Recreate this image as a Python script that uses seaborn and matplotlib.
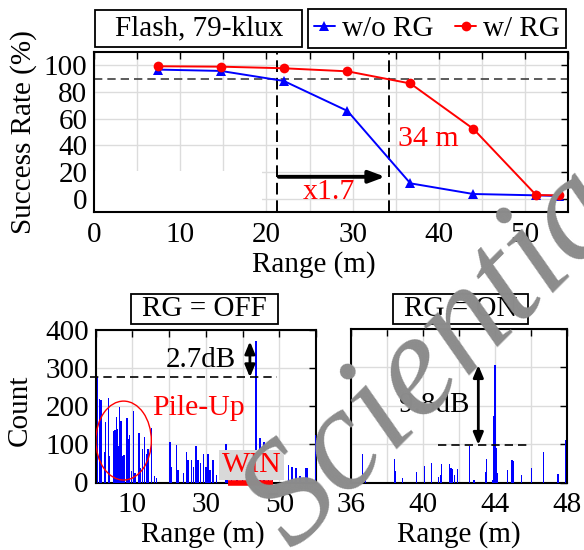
import numpy as np
import pandas as pd
import matplotlib
matplotlib.use('Agg')
import matplotlib.pyplot as plt
import seaborn as sns
from matplotlib.patches import Rectangle, Ellipse

# success rate vs range (top)
rng = [7.4, 14.7, 22.0, 29.4, 36.7, 44.0, 51.3, 54.0]
rate_wo_rg = [96.8, 95.8, 88.3, 65.8, 11.5, 3.5, 2.5, 2.0]
rate_w_rg = [99.3, 99.0, 97.8, 95.5, 86.4, 52.4, 2.7, 2.5]

# photon counts, RG off (bottom left)
off_range = [0.45, 1.08, 1.44, 2.35, 2.72, 3.44, 3.81, 4.9, 5.26, 5.62, 5.99, 6.17,
             6.53, 6.9, 7.26, 7.7, 8.52, 8.98, 9.25, 9.7, 10.34, 10.7, 11.8, 12.25,
             12.7, 13.33, 13.8, 14.3, 15.15, 15.96, 16.5,
             20.23, 20.7, 22.06, 22.4, 23.86, 24.78, 25.2, 26.1, 26.6, 27.3, 27.9,
             28.6, 29.3, 30.0, 30.6, 31.1, 31.9, 32.9, 35.5, 35.9,
             37.0, 38.5, 40.0, 41.5, 42.5, 43.66, 44.75, 45.9, 47.0, 48.2,
             52.45, 53.5, 54.5, 55.6, 57.2, 57.6, 59.85]
off_count = [276, 219, 216, 79, 160, 221, 70, 134, 137, 172, 140, 96,
             199, 162, 70, 73, 168, 114, 125, 31, 188, 26, 129, 39,
             87, 120, 74, 87, 144, 16, 13,
             107, 41, 98, 32, 24, 80, 59, 60, 41, 95, 59,
             50, 76, 41, 74, 32, 60, 19, 101, 24,
             10, 20, 14, 18, 25, 372, 118, 107, 32, 41,
             45, 41, 37, 17, 37, 37, 125]

# photon counts, RG on (bottom right)
on_range = [36.66, 36.8, 38.42, 38.49, 38.88, 39.66, 40.1, 40.49, 40.88, 40.97,
            41.04, 41.48, 41.56, 41.65, 41.74, 41.91, 42.57, 42.83, 43.48, 43.53,
            43.87, 43.93, 43.99, 44.05, 44.1, 44.68, 44.94, 45.03, 45.47, 46.03,
            46.69, 47.48, 47.92]
on_count = [74, 28, 61, 30, 12, 28, 43, 52, 15, 19,
            48, 47, 39, 35, 19, 34, 95, 6, 28, 60,
            6, 172, 305, 89, 24, 32, 59, 57, 19, 38,
            80, 21, 111]

sns.set_theme(style='whitegrid')
plt.rcParams['font.family'] = ['Liberation Serif', 'DejaVu Serif']
plt.rcParams.update({
    'axes.edgecolor': 'black',
    'axes.linewidth': 1.5,
    'grid.color': '#dcdcdc',
    'grid.linewidth': 1.0,
    'xtick.direction': 'in',
    'ytick.direction': 'in',
    'text.color': 'black',
    'axes.labelcolor': 'black',
    'xtick.color': 'black',
    'ytick.color': 'black',
})

W, H = 584, 550
FS = 21
FA = 21.5  # red annotations
fig = plt.figure(figsize=(W / 100, H / 100), dpi=100)


def px_axes(x0, y0, x1, y1):
    return fig.add_axes([x0 / W, 1 - y1 / H, (x1 - x0) / W, (y1 - y0) / H])


def px_box(x0, y0, x1, y1, label):
    fig.add_artist(Rectangle((x0 / W, 1 - y1 / H), (x1 - x0) / W, (y1 - y0) / H,
                             transform=fig.transFigure, fill=False, ec='black', lw=1.3))
    fig.text((x0 + x1) / 2 / W, 1 - (y0 + y1) / 2 / H, label, ha='center', va='center',
             fontsize=FS)


def style_ticks(ax):
    ax.tick_params(direction='in', top=True, right=True, length=5, width=1,
                   labelsize=FS, pad=7, colors='black')
    ax.tick_params(axis='y', pad=5)


# ---- top panel
ax = px_axes(94.2, 52, 568, 212)
df = pd.DataFrame({'Range': rng * 2,
                   'Rate': rate_wo_rg + rate_w_rg,
                   'Mode': ['w/o RG'] * len(rng) + ['w/ RG'] * len(rng)})
sns.lineplot(data=df, x='Range', y='Rate', hue='Mode', style='Mode',
             markers={'w/o RG': '^', 'w/ RG': 'o'}, dashes=False,
             palette={'w/o RG': 'blue', 'w/ RG': 'red'},
             markersize=7, linewidth=1.4, markeredgewidth=0, ax=ax, zorder=3)
ax.set_xlim(0, 55)
ax.set_ylim(-10, 110)
ticks = list(range(0, 56, 5))
ax.set_xticks(ticks)
ax.set_xticklabels([str(t) if t % 10 == 0 else '' for t in ticks])
ax.set_yticks(range(0, 101, 20))
style_ticks(ax)
ax.add_patch(Rectangle((0, -10), 19.5, 30.5, fc='white', ec='none', zorder=1))
ax.axhline(90, color='#404040', ls=(0, (5, 3)), lw=1.2, zorder=2)
ax.axvline(21.2, color='black', ls=(0, (6, 3)), lw=1.4, zorder=2)
ax.axvline(34.25, color='black', ls=(0, (6, 3)), lw=1.4, zorder=2)
ax.annotate('', xy=(34.1, 16.4), xytext=(21.1, 16.4),
            arrowprops=dict(arrowstyle='-|>,head_length=0.8,head_width=0.3',
                            color='black', lw=2.8), zorder=4)
ax.text(27.3, 5.2, 'x1.7', color='red', fontsize=FA, ha='center', va='center')
ax.text(35.3, 44.9, '34 m', color='red', fontsize=FA, ha='left', va='center')
ax.set_xlabel('Range (m)', fontsize=FS)
ax.set_ylabel('Success Rate (%)', fontsize=FS)
ax.xaxis.set_label_coords(0.463, -0.245)
ax.yaxis.set_label_coords(-0.121, 0.5)
handles, labels = ax.get_legend_handles_labels()
ax.get_legend().remove()
leg = fig.legend(handles, labels, loc='center', ncol=2,
                 bbox_to_anchor=(437.1 / W, 1 - 28.5 / H), fontsize=FS,
                 frameon=True, fancybox=False, edgecolor='black', framealpha=1,
                 handlelength=0.7, handletextpad=0.25, columnspacing=0.75,
                 borderpad=0.2, borderaxespad=0)
leg.get_frame().set_linewidth(1.3)
px_box(95, 10, 302.4, 47, 'Flash, 79-klux')

# ---- bottom left: RG off
ax2 = px_axes(95.7, 330, 316, 482.5)
ax2.bar(off_range, off_count, width=0.4, color='blue', lw=0, zorder=3)
ax2.set_xlim(0, 60)
ax2.set_ylim(0, 400)
ax2.set_xticks(range(0, 61, 10))
ax2.set_xticklabels(['', '10', '', '30', '', '50', ''])
ax2.set_yticks(range(0, 401, 100))
style_ticks(ax2)
ax2.plot([-1.6, 49.5], [276, 276], color='black', ls=(0, (5, 3)), lw=1.2,
         clip_on=False, zorder=4)
ax2.annotate('', xy=(42, 370), xytext=(42, 276),
             arrowprops=dict(arrowstyle='<|-|>,head_length=0.6,head_width=0.25',
                             color='black', lw=2, shrinkA=0, shrinkB=0))
ax2.text(28.6, 321, '2.7dB', fontsize=FS, ha='center', va='center')
ax2.text(28, 195, 'Pile-Up', fontsize=FA, color='red', ha='center', va='center')
ax2.add_patch(Ellipse((7.6, 110), 15.1, 207, fill=False, ec='red', lw=1, zorder=4))
ax2.text(42.5, 46, 'WIN', fontsize=FA, color='red', ha='center', va='center', zorder=5,
         bbox=dict(boxstyle='square,pad=0.08', fc='#d9d9d9', ec='none'))
ax2.plot([36.1, 48.2], [-2.6, -2.6], color='red', lw=4, solid_capstyle='butt',
         clip_on=False, zorder=6)
ax2.set_xlabel('Range (m)', fontsize=FS)
ax2.set_ylabel('Count', fontsize=FS)
ax2.xaxis.set_label_coords(0.488, -0.25)
ax2.yaxis.set_label_coords(-0.285, 0.475)
px_box(130.7, 294, 278, 324, 'RG = OFF')

# ---- bottom right: RG on
ax3 = px_axes(350.7, 329, 567.3, 482.5)
ax3.bar(on_range, on_count, width=0.07, color='blue', lw=0, zorder=3)
ax3.set_xlim(36, 48)
ax3.set_ylim(0, 400)
ax3.set_xticks(range(36, 49, 2))
ax3.set_xticklabels(['36', '', '40', '', '44', '', '48'])
ax3.set_yticks(range(0, 401, 100))
ax3.set_yticklabels([])
style_ticks(ax3)
ax3.plot([40.85, 45.95], [98, 98], color='black', ls=(0, (5, 3)), lw=1.2, zorder=4)
ax3.annotate('', xy=(43.07, 306), xytext=(43.07, 98),
             arrowprops=dict(arrowstyle='<|-|>,head_length=0.6,head_width=0.25',
                             color='black', lw=2, shrinkA=0, shrinkB=0))
ax3.text(40.65, 201, '9.8dB', fontsize=FS, ha='center', va='center')
ax3.set_xlabel('Range (m)', fontsize=FS)
ax3.set_ylabel('')
ax3.xaxis.set_label_coords(0.497, -0.25)
px_box(393, 294, 528, 324, 'RG = ON')

# watermark
fig.text(293 / W, 1 - 551 / H, 'Scientia', rotation=45, rotation_mode='anchor',
         ha='left', va='baseline', fontsize=106, color='#8c8c8c',
         style='italic', zorder=10)

fig.savefig('out.png', dpi=100)
